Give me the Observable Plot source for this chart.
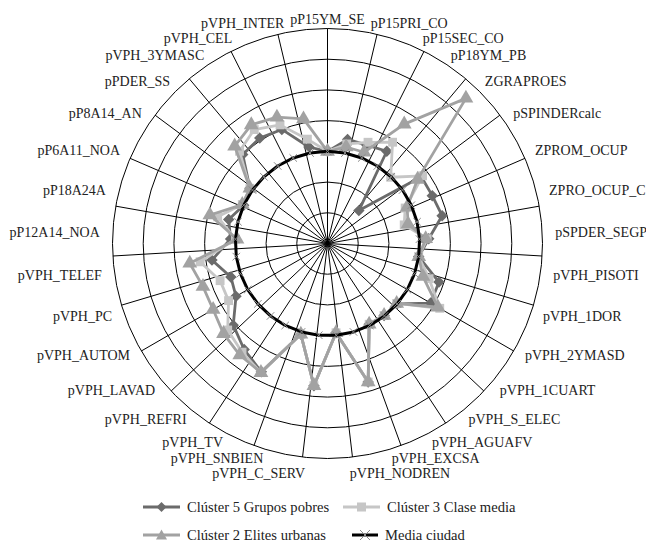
<!DOCTYPE html>
<html><head><meta charset="utf-8">
<script src="https://cdn.jsdelivr.net/npm/d3@7"></script>
<script src="https://cdn.jsdelivr.net/npm/@observablehq/plot@0.6"></script>
<style>
body{margin:0;background:#fff;font-family:"Liberation Serif",serif;}
#wrap{position:relative;width:646px;height:545px;}
#legend{position:absolute;left:0;top:495px;width:646px;height:50px;font-size:14.6px;color:#222;}
.item{position:absolute;display:flex;align-items:center;white-space:nowrap;height:16px;}
.item span{margin-left:7px;}
</style></head><body><div id="wrap"><div id="chart"></div><div id="legend"></div></div>
<script>
const categories = ["pP15YM_SE","pP15PRI_CO","pP15SEC_CO","pP18YM_PB","ZGRAPROES","pSPINDERcalc","ZPROM_OCUP","ZPRO_OCUP_C","pSPDER_SEGP","pVPH_PISOTI","pVPH_1DOR","pVPH_2YMASD","pVPH_1CUART","pVPH_S_ELEC","pVPH_AGUAFV","pVPH_EXCSA","pVPH_NODREN","pVPH_C_SERV","pVPH_SNBIEN","pVPH_TV","pVPH_REFRI","pVPH_LAVAD","pVPH_AUTOM","pVPH_PC","pVPH_TELEF","pP12A14_NOA","pP18A24A","pP6A11_NOA","pP8A14_AN","pPDER_SS","pVPH_3YMASC","pVPH_CEL","pVPH_INTER"];
const seriesNames = ["Clúster 5 Grupos pobres","Clúster 3 Clase media","Clúster 2 Elites urbanas","Media ciudad"];
const cluster5 = [3.0,3.45,3.45,3.57,1.48,3.75,3.75,3.84,3.3,3.0,3.84,3.88,3.0,2.98,2.96,4.7,2.92,4.65,3.08,4.7,4.39,4.06,3.44,3.33,3.8,3.16,3.31,3.0,3.1,4.0,4.08,4.0,3.2];
const cluster3 = [3.0,3.3,3.55,3.92,2.98,3.8,2.78,2.57,3.25,3.0,3.5,4.22,2.98,2.98,2.96,4.7,2.92,4.65,3.08,4.73,4.5,4.3,3.72,3.7,4.19,3.0,3.68,3.05,3.1,4.15,4.41,4.16,3.46];
const cluster2 = [3.0,3.2,3.2,4.62,6.53,3.6,2.85,2.7,3.2,3.0,3.29,4.15,2.98,2.98,2.96,4.7,2.92,4.65,3.08,4.73,4.62,4.48,4.3,4.29,4.53,2.95,3.94,3.05,3.1,4.38,4.59,4.43,4.13];
const mediaCiudad = [3,3,3,3,3,3,3,3,3,3,3,3,3,3,3,3,3,3,3,3,3,3,3,3,3,3,3,3,3,3,3,3,3];
const ringTicks = [1,2,3,4,5,6,7];
const spokeCount = 27;

const W = 646, H = 495, CX = 327, CY = 243, RPX = 215, RMAX = 7;
const U = RPX / RMAX;
const n = categories.length;
const ang = i => i * 2 * Math.PI / n;
function rows(vals, name) {
  return vals.map((v, i) => ({series: name, cat: categories[i], v, x: v * Math.sin(ang(i)), y: v * Math.cos(ang(i))}));
}
const r5 = rows(cluster5, seriesNames[0]);
const r3 = rows(cluster3, seriesNames[1]);
const r2 = rows(cluster2, seriesNames[2]);
const rm = rows(mediaCiudad, seriesNames[3]);
const spokes = d3.range(spokeCount).map(k => {
  const a = k * 2 * Math.PI / spokeCount;
  return {x2: RMAX * Math.sin(a), y2: RMAX * Math.cos(a)};
});

// label layout: anchored outside the outer ring, then overlapping neighbours pushed apart
const FS = 14;
const ctx = document.createElement("canvas").getContext("2d");
ctx.font = FS + "px 'Liberation Serif'";
const labels = categories.map((c, i) => {
  const a = ang(i), s = Math.sin(a), co = Math.cos(a);
  const anchor = s > 0.02 ? "start" : s < -0.02 ? "end" : "middle";
  return {c, a, s, co, anchor, w: ctx.measureText(c).width, h: FS, px: CX + 228 * s, py: CY - 224 * co};
});
function box(d) {
  const x0 = d.anchor === "start" ? d.px : d.anchor === "end" ? d.px - d.w : d.px - d.w / 2;
  return {x0, x1: x0 + d.w, y0: d.py - d.h / 2, y1: d.py + d.h / 2};
}
for (let iter = 0; iter < 200; iter++) {
  let moved = false;
  for (let i = 0; i < n; i++) {
    const j = (i + 1) % n, A = labels[i], B = labels[j];
    const a = box(A), b = box(B);
    const ox = Math.min(a.x1, b.x1) - Math.max(a.x0, b.x0) + 2;
    const oy = Math.min(a.y1, b.y1) - Math.max(a.y0, b.y0) + 1;
    if (ox > 0 && oy > 0) {
      const am = (i + 0.5) * 2 * Math.PI / n;
      if (Math.cos(am) < -0.5) {
        // lower half: the label nearer the vertical moves radially outward
        const L = Math.abs(A.s) <= Math.abs(B.s) ? A : B;
        L.px += L.s; L.py -= L.co;
      } else {
        const tx = Math.cos(am), ty = Math.sin(am);
        if (Math.abs(B.s) >= Math.abs(A.s)) { B.px += tx; B.py += ty; }
        else { A.px -= tx; A.py -= ty; }
      }
      moved = true;
    }
  }
  if (!moved) break;
}
labels.forEach(d => { d.x = (d.px - CX) / U; d.y = (CY - d.py) / U; });

const C5 = "#6b6b6b", C3 = "#c6c6c6", C2 = "#a2a2a2";
const font = "Liberation Serif";
const textOpts = {x: "x", y: "y", text: "c", fontSize: FS, fill: "#222"};
const plot = Plot.plot({
  width: W, height: H,
  marginLeft: 0, marginRight: 0, marginTop: 0, marginBottom: 0,
  x: {domain: [-CX / U, (W - CX) / U], axis: null},
  y: {domain: [-(H - CY) / U, CY / U], axis: null},
  r: {type: "identity"},
  style: {fontFamily: font, background: "#fff"},
  marks: [
    Plot.dot(ringTicks, {x: 0, y: 0, r: d => d * U, stroke: "#000", fill: "none", strokeWidth: 1}),
    Plot.link(spokes, {x1: 0, y1: 0, x2: "x2", y2: "y2", stroke: "#000", strokeWidth: 1}),
    Plot.line(r5, {x: "x", y: "y", curve: "linear-closed", stroke: C5, strokeWidth: 2.8}),
    Plot.dot(r5, {x: "x", y: "y", symbol: "diamond2", fill: C5, stroke: C5, r: 4.2}),
    Plot.line(r3, {x: "x", y: "y", curve: "linear-closed", stroke: C3, strokeWidth: 2.8}),
    Plot.dot(r3, {x: "x", y: "y", symbol: "square", fill: C3, r: 5}),
    Plot.line(r2, {x: "x", y: "y", curve: "linear-closed", stroke: C2, strokeWidth: 2.8}),
    Plot.dot(r2, {x: "x", y: "y", symbol: "triangle", fill: C2, r: 5.5}),
    Plot.line(rm, {x: "x", y: "y", curve: "linear-closed", stroke: "#000", strokeWidth: 3}),
    Plot.dot(rm, {x: "x", y: "y", symbol: "times", stroke: "#8a8a8a", strokeWidth: 1, r: 3.5}),
    Plot.text(labels.filter(d => d.anchor === "start"), {...textOpts, textAnchor: "start"}),
    Plot.text(labels.filter(d => d.anchor === "end"), {...textOpts, textAnchor: "end"}),
    Plot.text(labels.filter(d => d.anchor === "middle"), {...textOpts, textAnchor: "middle"})
  ]
});
document.getElementById("chart").appendChild(plot);

// legend
const legendItems = [
  {name: seriesNames[0], color: C5, sym: "diamond", left: 143, top: 4},
  {name: seriesNames[1], color: C3, sym: "square", left: 343, top: 4},
  {name: seriesNames[2], color: C2, sym: "triangle", left: 143, top: 32},
  {name: seriesNames[3], color: "#000", sym: "x", left: 352, top: 32}
];
const lg = document.getElementById("legend");
for (const it of legendItems) {
  const div = document.createElement("div");
  div.className = "item";
  div.style.left = it.left + "px";
  div.style.top = it.top + "px";
  const w = it.sym === "x" ? 26 : 37;
  let m = "";
  const cx = w / 2;
  if (it.sym === "diamond") m = `<path d="M${cx},3 L${cx+5},8 L${cx},13 L${cx-5},8Z" fill="${it.color}"/>`;
  if (it.sym === "square") m = `<rect x="${cx-4.5}" y="3.5" width="9" height="9" fill="${it.color}"/>`;
  if (it.sym === "triangle") m = `<path d="M${cx},2.5 L${cx+5.5},12.5 L${cx-5.5},12.5Z" fill="${it.color}"/>`;
  if (it.sym === "x") m = `<path d="M${cx-5},3 L${cx+5},13 M${cx+5},3 L${cx-5},13" stroke="#8a8a8a" stroke-width="1"/>`;
  div.innerHTML = `<svg width="${w}" height="16"><line x1="0" y1="8" x2="${w}" y2="8" stroke="${it.color}" stroke-width="${it.sym==='x'?3:2.8}"/>${m}</svg><span>${it.name}</span>`;
  lg.appendChild(div);
}
</script></body></html>
